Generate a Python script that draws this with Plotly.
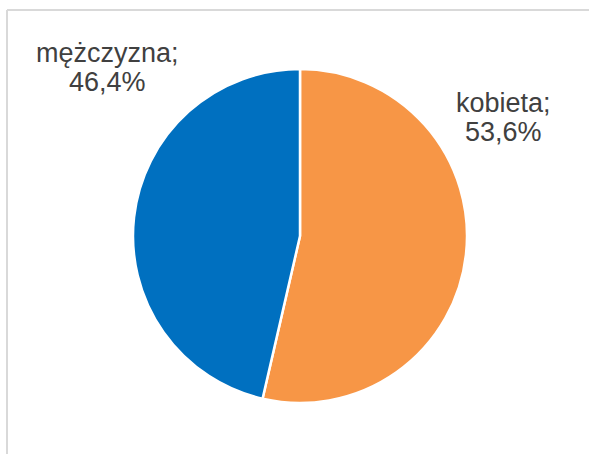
import plotly.graph_objects as go

labels = ["kobieta", "mężczyzna"]
values = [53.6, 46.4]
colors = ["#F79646", "#0070C0"]

W, H = 589, 454
cx, cy, r = 300, 236, 167

fig = go.Figure(go.Pie(
    labels=labels, values=values, sort=False, direction="clockwise", rotation=0,
    marker=dict(colors=colors, line=dict(color="white", width=2.5)),
    textinfo="none", hoverinfo="label+percent", showlegend=False,
    domain=dict(x=[(cx - r) / W, (cx + r) / W], y=[(H - cy - r) / H, (H - cy + r) / H]),
))

# (x center, y of line 1, y of line 2) in pixels from top-left
label_pos = {"kobieta": (503, 103, 132), "mężczyzna": (107, 53, 82)}
font = dict(family="Liberation Sans, Arial", size=27, color="#404040")
for lab, val in zip(labels, values):
    px, py1, py2 = label_pos[lab]
    for txt, py in ((f"{lab};", py1), (f"{val:.1f}%".replace(".", ","), py2)):
        fig.add_annotation(
            x=px / W, y=1 - py / H, xref="paper", yref="paper", text=txt,
            showarrow=False, xanchor="center", yanchor="middle", font=font,
        )

border = "#D9D9D9"
fig.add_shape(type="line", xref="paper", yref="paper", x0=7 / W, x1=1, y0=1 - 10 / H, y1=1 - 10 / H,
              line=dict(color=border, width=2))
fig.add_shape(type="line", xref="paper", yref="paper", x0=7 / W, x1=7 / W, y0=0, y1=1 - 10 / H,
              line=dict(color=border, width=2))

fig.update_layout(width=W, height=H, margin=dict(l=0, r=0, t=0, b=0),
                  paper_bgcolor="white", plot_bgcolor="white")
fig.write_html("out.html", config={"displayModeBar": False},
               post_script="document.body.style.margin='0';")
